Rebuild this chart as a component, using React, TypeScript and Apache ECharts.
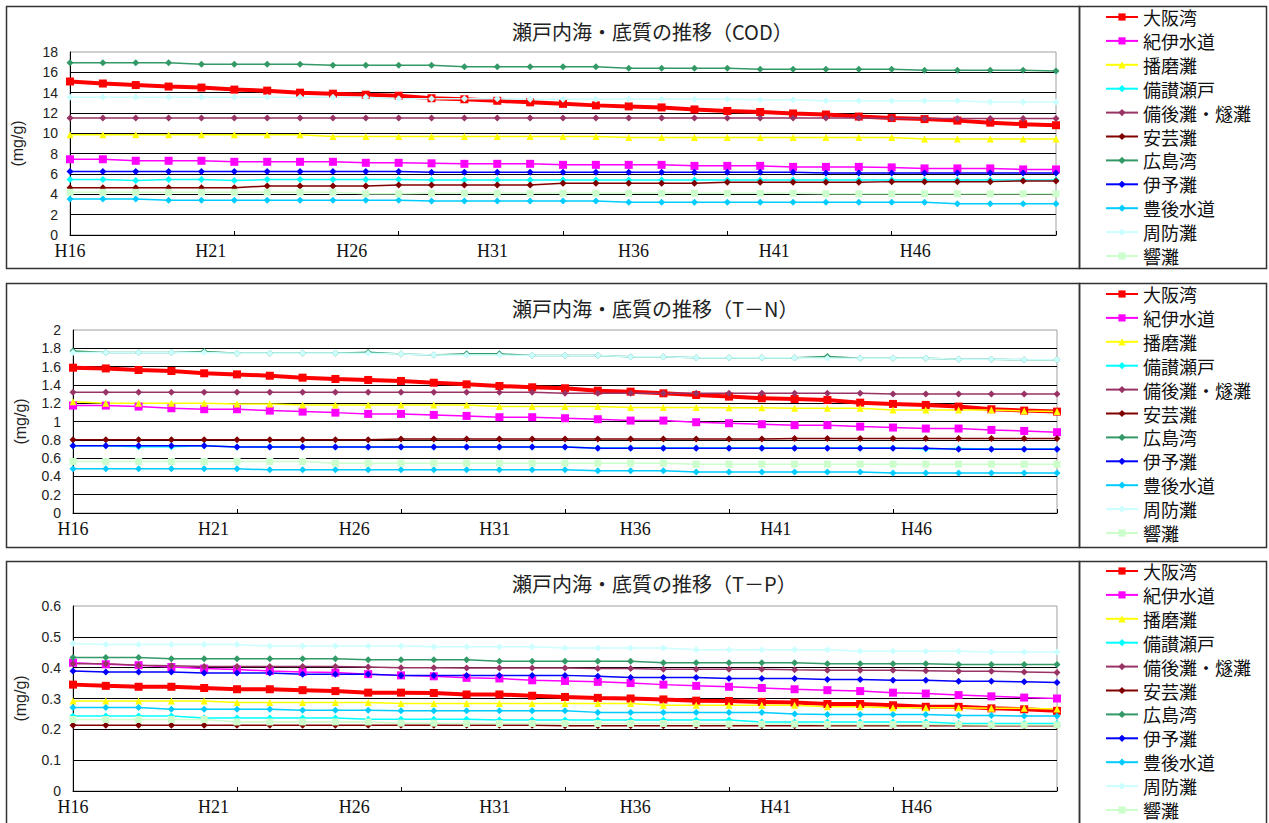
import { useEffect, useRef } from 'react';
import * as echarts from 'echarts';

// ---------- data ----------
const seriesNames = ['大阪湾', '紀伊水道', '播磨灘', '備讃瀬戸', '備後灘・燧灘', '安芸灘', '広島湾', '伊予灘', '豊後水道', '周防灘', '響灘'];
const seriesColors = ['#FF0000', '#FF00FF', '#FFFF00', '#00FFFF', '#993366', '#800000', '#339966', '#0000FF', '#00CCFF', '#CCFFFF', '#CCFFCC'];
const seriesSymbols = ['rect', 'rect', 'triangle', 'diamond', 'diamond', 'diamond', 'diamond', 'diamond', 'diamond', 'diamond', 'rect'];

// 31 survey points plotted evenly along the axis
const dataCategories = ['1', '2', '3', '4', '5', '6', '7', '8', '9', '10', '11', '12', '13', '14', '15', '16', '17', '18', '19', '20', '21', '22', '23', '24', '25', '26', '27', '28', '29', '30', '31'];
// tick label axis
const yearLabels = ['H16', 'H17', 'H18', 'H19', 'H20', 'H21', 'H22', 'H23', 'H24', 'H25', 'H26', 'H27', 'H28', 'H29', 'H30', 'H31', 'H32', 'H33', 'H34', 'H35', 'H36', 'H37', 'H38', 'H39', 'H40', 'H41', 'H42', 'H43', 'H44', 'H45', 'H46', 'H47', 'H48', 'H49', 'H50', 'H51'];

const panelTitles = ['瀬戸内海・底質の推移（COD）', '瀬戸内海・底質の推移（T－N）', '瀬戸内海・底質の推移（T－P）'];
const yMax = [18, 2, 0.6];
const yInterval = [2, 0.2, 0.1];
const yAxisName = '(mg/g)';

// COD
const osakaCOD = [15.1, 14.9, 14.75, 14.6, 14.5, 14.3, 14.2, 14.0, 13.9, 13.8, 13.7, 13.45, 13.35, 13.2, 13.05, 12.9, 12.75, 12.65, 12.55, 12.35, 12.2, 12.1, 11.95, 11.85, 11.65, 11.5, 11.4, 11.25, 11.05, 10.9, 10.8];
const kiiCOD = [7.45, 7.45, 7.3, 7.3, 7.3, 7.2, 7.2, 7.2, 7.2, 7.1, 7.1, 7.05, 7.0, 7.0, 7.0, 6.9, 6.9, 6.9, 6.9, 6.8, 6.8, 6.8, 6.7, 6.7, 6.7, 6.65, 6.55, 6.55, 6.55, 6.45, 6.45];
const harimaCOD = [9.85, 9.85, 9.85, 9.85, 9.85, 9.85, 9.85, 9.85, 9.7, 9.7, 9.7, 9.7, 9.7, 9.7, 9.7, 9.7, 9.7, 9.6, 9.6, 9.6, 9.6, 9.6, 9.6, 9.6, 9.6, 9.6, 9.45, 9.45, 9.45, 9.45, 9.45];
const bisanCOD = [5.45, 5.45, 5.35, 5.45, 5.45, 5.35, 5.45, 5.45, 5.45, 5.45, 5.45, 5.4, 5.4, 5.4, 5.4, 5.4, 5.4, 5.4, 5.4, 5.4, 5.4, 5.4, 5.4, 5.4, 5.4, 5.4, 5.4, 5.4, 5.4, 5.4, 5.4];
const bingoCOD = [11.5, 11.5, 11.5, 11.5, 11.5, 11.5, 11.5, 11.5, 11.5, 11.5, 11.5, 11.5, 11.5, 11.5, 11.5, 11.5, 11.5, 11.5, 11.5, 11.5, 11.5, 11.5, 11.5, 11.5, 11.5, 11.45, 11.45, 11.45, 11.45, 11.45, 11.45];
const akiCOD = [4.65, 4.65, 4.65, 4.65, 4.65, 4.65, 4.82, 4.82, 4.82, 4.82, 4.92, 4.92, 4.92, 4.92, 4.92, 5.08, 5.08, 5.08, 5.08, 5.08, 5.18, 5.18, 5.18, 5.18, 5.18, 5.25, 5.25, 5.25, 5.25, 5.32, 5.32];
const hiroshimaCOD = [16.95, 16.95, 16.95, 16.95, 16.8, 16.8, 16.8, 16.8, 16.7, 16.7, 16.7, 16.7, 16.55, 16.55, 16.55, 16.55, 16.55, 16.4, 16.4, 16.4, 16.4, 16.3, 16.3, 16.3, 16.3, 16.3, 16.2, 16.2, 16.2, 16.2, 16.13];
const iyoCOD = [6.25, 6.25, 6.25, 6.25, 6.25, 6.25, 6.25, 6.25, 6.25, 6.25, 6.25, 6.18, 6.18, 6.18, 6.18, 6.18, 6.18, 6.18, 6.18, 6.18, 6.18, 6.18, 6.18, 6.1, 6.1, 6.1, 6.1, 6.1, 6.1, 6.1, 6.1];
const bungoCOD = [3.55, 3.55, 3.55, 3.42, 3.42, 3.42, 3.42, 3.42, 3.42, 3.42, 3.42, 3.35, 3.35, 3.35, 3.35, 3.35, 3.35, 3.22, 3.22, 3.22, 3.22, 3.22, 3.22, 3.22, 3.22, 3.22, 3.22, 3.07, 3.07, 3.07, 3.07];
const suoCOD = [13.55, 13.55, 13.55, 13.55, 13.55, 13.55, 13.55, 13.55, 13.55, 13.55, 13.4, 13.4, 13.4, 13.4, 13.35, 13.35, 13.35, 13.35, 13.35, 13.35, 13.35, 13.3, 13.3, 13.2, 13.2, 13.2, 13.2, 13.2, 13.08, 13.08, 13.08];
const hibikiCOD = [4.2, 4.2, 4.2, 4.2, 4.2, 4.2, 4.2, 4.2, 4.2, 4.05, 4.05, 4.1, 4.1, 4.1, 4.1, 4.1, 4.1, 4.1, 4.1, 4.1, 4.1, 4.1, 4.1, 4.05, 4.05, 4.05, 4.05, 4.05, 4.05, 4.05, 4.05];

// T-N
const osakaTN = [1.588, 1.58, 1.563, 1.552, 1.527, 1.515, 1.5, 1.479, 1.465, 1.454, 1.443, 1.424, 1.406, 1.388, 1.374, 1.363, 1.337, 1.326, 1.308, 1.29, 1.272, 1.254, 1.246, 1.236, 1.206, 1.192, 1.181, 1.163, 1.134, 1.119, 1.108];
const kiiTN = [1.174, 1.174, 1.163, 1.145, 1.134, 1.134, 1.119, 1.108, 1.097, 1.083, 1.083, 1.072, 1.061, 1.047, 1.047, 1.036, 1.025, 1.01, 1.01, 0.992, 0.981, 0.97, 0.96, 0.96, 0.944, 0.934, 0.923, 0.923, 0.908, 0.897, 0.883];
const harimaTN = [1.217, 1.2, 1.2, 1.2, 1.2, 1.19, 1.19, 1.181, 1.181, 1.181, 1.18, 1.18, 1.18, 1.163, 1.163, 1.163, 1.163, 1.152, 1.152, 1.152, 1.15, 1.15, 1.145, 1.145, 1.145, 1.127, 1.127, 1.127, 1.127, 1.116, 1.108];
const bisanTN = [0.735, 0.735, 0.725, 0.725, 0.735, 0.72, 0.725, 0.72, 0.72, 0.72, 0.72, 0.72, 0.72, 0.72, 0.72, 0.72, 0.71, 0.71, 0.71, 0.71, 0.71, 0.71, 0.71, 0.71, 0.71, 0.71, 0.7, 0.705, 0.7, 0.7, 0.7];
const bingoTN = [1.32, 1.32, 1.32, 1.32, 1.32, 1.32, 1.32, 1.32, 1.32, 1.32, 1.32, 1.32, 1.32, 1.32, 1.32, 1.31, 1.31, 1.31, 1.31, 1.31, 1.31, 1.31, 1.31, 1.31, 1.31, 1.3, 1.3, 1.3, 1.3, 1.3, 1.3];
const akiTN = [0.8, 0.8, 0.8, 0.8, 0.8, 0.8, 0.8, 0.8, 0.8, 0.8, 0.81, 0.81, 0.81, 0.81, 0.81, 0.81, 0.81, 0.81, 0.81, 0.81, 0.81, 0.81, 0.815, 0.815, 0.815, 0.815, 0.815, 0.815, 0.815, 0.815, 0.815];
const hiroshimaTN = [1.77, 1.755, 1.755, 1.755, 1.765, 1.745, 1.745, 1.745, 1.745, 1.757, 1.737, 1.726, 1.74, 1.74, 1.72, 1.72, 1.72, 1.708, 1.708, 1.697, 1.697, 1.697, 1.697, 1.71, 1.69, 1.69, 1.69, 1.68, 1.68, 1.675, 1.675];
const iyoTN = [0.735, 0.735, 0.735, 0.735, 0.735, 0.72, 0.72, 0.72, 0.72, 0.72, 0.72, 0.72, 0.72, 0.72, 0.72, 0.72, 0.709, 0.709, 0.709, 0.709, 0.709, 0.709, 0.709, 0.709, 0.709, 0.709, 0.709, 0.698, 0.698, 0.698, 0.698];
const bungoTN = [0.483, 0.483, 0.483, 0.483, 0.483, 0.483, 0.472, 0.472, 0.472, 0.472, 0.472, 0.472, 0.472, 0.472, 0.472, 0.472, 0.463, 0.463, 0.463, 0.447, 0.447, 0.447, 0.447, 0.447, 0.447, 0.436, 0.436, 0.436, 0.436, 0.436, 0.436];
const suoTN = [1.755, 1.755, 1.755, 1.755, 1.755, 1.745, 1.745, 1.745, 1.745, 1.745, 1.737, 1.726, 1.726, 1.726, 1.72, 1.72, 1.72, 1.708, 1.708, 1.697, 1.697, 1.697, 1.697, 1.69, 1.69, 1.69, 1.69, 1.68, 1.68, 1.675, 1.675];
const hibikiTN = [0.563, 0.563, 0.563, 0.563, 0.563, 0.563, 0.563, 0.563, 0.545, 0.545, 0.545, 0.545, 0.545, 0.545, 0.545, 0.545, 0.545, 0.545, 0.545, 0.534, 0.534, 0.534, 0.534, 0.534, 0.534, 0.534, 0.534, 0.534, 0.534, 0.534, 0.534];

// T-P
const osakaTP = [0.345, 0.341, 0.338, 0.338, 0.334, 0.33, 0.33, 0.327, 0.324, 0.319, 0.319, 0.318, 0.313, 0.313, 0.309, 0.305, 0.302, 0.3, 0.297, 0.293, 0.292, 0.289, 0.287, 0.282, 0.282, 0.278, 0.273, 0.273, 0.268, 0.265, 0.26];
const kiiTP = [0.416, 0.411, 0.408, 0.402, 0.397, 0.394, 0.389, 0.386, 0.384, 0.379, 0.375, 0.372, 0.367, 0.365, 0.359, 0.357, 0.354, 0.35, 0.345, 0.341, 0.338, 0.334, 0.33, 0.327, 0.324, 0.319, 0.316, 0.311, 0.307, 0.303, 0.3];
const harimaTP = [0.292, 0.292, 0.292, 0.292, 0.292, 0.287, 0.287, 0.287, 0.287, 0.287, 0.284, 0.284, 0.284, 0.284, 0.284, 0.284, 0.284, 0.284, 0.278, 0.278, 0.278, 0.278, 0.278, 0.273, 0.273, 0.27, 0.27, 0.27, 0.268, 0.268, 0.266];
const bisanTP = [0.243, 0.243, 0.243, 0.243, 0.237, 0.237, 0.237, 0.237, 0.237, 0.233, 0.233, 0.233, 0.233, 0.23, 0.23, 0.23, 0.23, 0.23, 0.23, 0.23, 0.23, 0.224, 0.224, 0.224, 0.224, 0.224, 0.224, 0.219, 0.219, 0.219, 0.219];
const bingoTP = [0.413, 0.413, 0.408, 0.406, 0.404, 0.404, 0.404, 0.404, 0.404, 0.402, 0.4, 0.4, 0.399, 0.399, 0.399, 0.399, 0.397, 0.397, 0.395, 0.395, 0.395, 0.395, 0.393, 0.392, 0.392, 0.392, 0.39, 0.388, 0.388, 0.386, 0.384];
const akiTP = [0.213, 0.213, 0.213, 0.213, 0.213, 0.213, 0.213, 0.213, 0.213, 0.213, 0.213, 0.213, 0.213, 0.213, 0.213, 0.212, 0.212, 0.212, 0.212, 0.212, 0.212, 0.212, 0.212, 0.212, 0.212, 0.212, 0.212, 0.212, 0.212, 0.212, 0.212];
const hiroshimaTP = [0.433, 0.433, 0.433, 0.429, 0.429, 0.429, 0.429, 0.429, 0.429, 0.426, 0.426, 0.426, 0.426, 0.421, 0.421, 0.421, 0.421, 0.421, 0.416, 0.416, 0.416, 0.416, 0.416, 0.413, 0.413, 0.413, 0.413, 0.41, 0.41, 0.41, 0.41];
const iyoTP = [0.389, 0.386, 0.386, 0.386, 0.383, 0.383, 0.383, 0.379, 0.379, 0.379, 0.375, 0.375, 0.375, 0.375, 0.375, 0.375, 0.372, 0.368, 0.368, 0.368, 0.365, 0.365, 0.365, 0.362, 0.362, 0.359, 0.359, 0.356, 0.356, 0.354, 0.352];
const bungoTP = [0.271, 0.271, 0.271, 0.265, 0.265, 0.265, 0.265, 0.262, 0.262, 0.262, 0.26, 0.26, 0.26, 0.26, 0.26, 0.26, 0.255, 0.255, 0.255, 0.255, 0.255, 0.255, 0.25, 0.248, 0.248, 0.248, 0.248, 0.245, 0.245, 0.243, 0.243];
const suoTP = [0.478, 0.475, 0.475, 0.475, 0.475, 0.475, 0.47, 0.47, 0.47, 0.47, 0.47, 0.468, 0.468, 0.468, 0.468, 0.464, 0.464, 0.464, 0.464, 0.458, 0.458, 0.458, 0.458, 0.458, 0.453, 0.453, 0.453, 0.453, 0.451, 0.451, 0.451];
const hibikiTP = [0.232, 0.232, 0.232, 0.232, 0.232, 0.224, 0.224, 0.224, 0.224, 0.224, 0.22, 0.22, 0.219, 0.219, 0.219, 0.219, 0.219, 0.219, 0.219, 0.219, 0.217, 0.217, 0.217, 0.216, 0.216, 0.216, 0.216, 0.215, 0.214, 0.214, 0.214];

const codSeries = [osakaCOD, kiiCOD, harimaCOD, bisanCOD, bingoCOD, akiCOD, hiroshimaCOD, iyoCOD, bungoCOD, suoCOD, hibikiCOD];
const tnSeries = [osakaTN, kiiTN, harimaTN, bisanTN, bingoTN, akiTN, hiroshimaTN, iyoTN, bungoTN, suoTN, hibikiTN];
const tpSeries = [osakaTP, kiiTP, harimaTP, bisanTP, bingoTP, akiTP, hiroshimaTP, iyoTP, bungoTP, suoTP, hibikiTP];

// ---------- layout ----------
const JP = '"Noto Sans CJK JP", "Noto Sans", sans-serif';
const SANS = '"Liberation Sans", Arial, sans-serif';
const SERIF = '"Liberation Serif", "DejaVu Serif", serif';

const layout = [
  { boxTop: 6, boxH: 262, gridTop: 52, gridH: 183, gridLeft: 70, gridW: 986, titleY: 33, legendTop: 7 },
  { boxTop: 283, boxH: 264, gridTop: 330, gridH: 183, gridLeft: 73, gridW: 984, titleY: 310, legendTop: 284 },
  { boxTop: 561, boxH: 280, gridTop: 606, gridH: 185, gridLeft: 73, gridW: 984, titleY: 585, legendTop: 561 },
];

function buildOption() {
  const allData = [codSeries, tnSeries, tpSeries];
  const grid: any[] = [];
  const xAxis: any[] = [];
  const yAxis: any[] = [];
  const series: any[] = [];
  const title: any[] = [];
  const legend: any[] = [];
  const graphic: any[] = [];

  layout.forEach((L, p) => {
    grid.push({
      left: L.gridLeft, top: L.gridTop, width: L.gridW, height: L.gridH,
      show: true, borderColor: '#a0a0a0', borderWidth: 1, backgroundColor: 'transparent',
    });
    xAxis.push({
      type: 'category', gridIndex: p, data: dataCategories, boundaryGap: false,
      axisLine: { show: true, lineStyle: { color: '#000', width: 1 } },
      axisTick: { show: true, inside: true, length: 4, interval: 4, lineStyle: { color: '#000' } },
      axisLabel: { show: false },
      splitLine: { show: false },
    });
    xAxis.push({
      type: 'category', gridIndex: p, data: yearLabels, boundaryGap: false, position: 'bottom',
      axisLine: { show: false }, axisTick: { show: false }, splitLine: { show: false },
      axisLabel: {
        interval: 4, margin: 7, fontFamily: SERIF, fontSize: 18, color: '#111',
        formatter: (v: string) => (v === 'H51' ? '' : v),
      },
    });
    yAxis.push({
      type: 'value', gridIndex: p, min: 0, max: yMax[p], interval: yInterval[p],
      axisLine: { show: true, lineStyle: { color: '#000', width: 1 } },
      axisTick: { show: false },
      splitLine: { show: true, showMaxLine: false, lineStyle: { color: '#000', width: 1 } },
      axisLabel: { fontFamily: SANS, fontSize: 14, color: '#222', margin: 12 },
      name: yAxisName, nameLocation: 'middle', nameGap: 45, nameRotate: 90,
      nameTextStyle: { fontFamily: SANS, fontSize: 16, color: '#222' },
    });
    allData[p].forEach((vals, s) => {
      series.push({
        type: 'line', name: seriesNames[s], xAxisIndex: p * 2, yAxisIndex: p,
        data: vals, symbol: seriesSymbols[s], symbolSize: s < 2 ? 8 : 7,
        lineStyle: { color: seriesColors[s], width: s === 0 ? 4 : 1.5 },
        itemStyle: { color: seriesColors[s] },
      });
    });
    title.push({
      text: panelTitles[p], left: 512, top: L.titleY - 12, padding: 0,
      textStyle: { fontFamily: JP, fontSize: 20, fontWeight: 'normal', color: '#222' },
    });
    legend.push({
      data: seriesNames, orient: 'vertical', left: 1105, top: L.legendTop, padding: 0,
      itemWidth: 32, itemHeight: 9, itemGap: 3.9, selectedMode: false,
      textStyle: { fontFamily: JP, fontSize: 18, color: '#111', lineHeight: 20 },
    });
    graphic.push({
      type: 'rect', shape: { x: 6.5, y: L.boxTop + 0.5, width: 1073, height: L.boxH },
      style: { fill: 'none', stroke: '#333', lineWidth: 1.5 }, silent: true,
    });
    graphic.push({
      type: 'rect', shape: { x: 1079.5, y: L.boxTop + 0.5, width: 187, height: L.boxH },
      style: { fill: 'none', stroke: '#333', lineWidth: 1.5 }, silent: true,
    });
  });

  return { animation: false, backgroundColor: '#fff', grid, xAxis, yAxis, series, title, legend, graphic };
}

export default function App() {
  const ref = useRef<HTMLDivElement>(null);
  useEffect(() => {
    if (!ref.current) return;
    const chart = echarts.init(ref.current, undefined, { renderer: 'svg' });
    chart.setOption(buildOption() as any);
    return () => chart.dispose();
  }, []);
  return <div ref={ref} style={{ position: 'fixed', left: 0, top: 0, width: 1269, height: 823 }} />;
}
